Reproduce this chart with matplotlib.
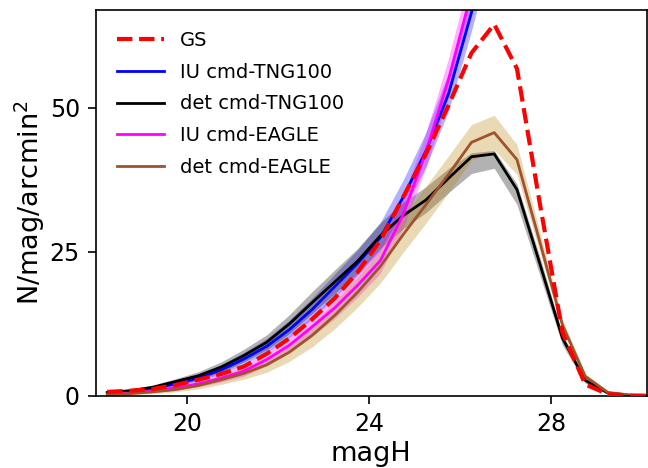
import numpy as np
import matplotlib
matplotlib.use("Agg")
import matplotlib.pyplot as plt

plt.rcParams['axes.linewidth'] = 1.2
plt.rcParams['xtick.major.size'] = 5.5
plt.rcParams['ytick.major.size'] = 5.5
plt.rcParams['xtick.major.width'] = 1.2
plt.rcParams['ytick.major.width'] = 1.2

# bin centres in magH
mag = [18.25, 18.75, 19.25, 19.75, 20.25, 20.75, 21.25, 21.75, 22.25, 22.75,
       23.25, 23.75, 24.25, 24.75, 25.25, 25.75, 26.25, 26.75, 27.25, 27.75,
       28.25, 28.75, 29.25, 29.75, 30.25]

gs = [0.7, 0.9, 1.2, 1.9, 2.8, 3.8, 5.1, 7.3, 10.0, 13.3,
      17.0, 21.5, 27.0, 34.5, 42.0, 50.5, 59.5, 64.5, 56.8, 33.5,
      11.0, 2.0, 0.3, 0.05, 0.02]

# IU curves run off the top of the plot
iu_tng = [0.5, 0.8, 1.3, 2.1, 3.1, 4.5, 6.4, 8.6, 11.5, 15.0,
          19.0, 23.0, 27.5, 34.5, 42.5, 52.5, 66.5, 82.0, 95.0]
iu_tng_err = [0.3, 0.3, 0.4, 0.5, 0.6, 0.8, 1.0, 1.2, 1.5, 1.8,
              2.0, 2.2, 2.4, 2.7, 3.0, 3.3, 3.6, 4.0, 4.4]

iu_eagle = [0.3, 0.5, 0.9, 1.4, 2.1, 3.1, 4.3, 6.3, 8.8, 12.0,
            15.3, 19.2, 23.5, 31.5, 42.3, 55.0, 70.0, 85.0, 98.0]
iu_eagle_err = [0.3, 0.3, 0.4, 0.5, 0.6, 0.8, 1.0, 1.2, 1.5, 1.8,
                2.0, 2.2, 2.4, 2.7, 3.0, 3.3, 3.6, 4.0, 4.4]

det_tng = [0.6, 0.9, 1.5, 2.5, 3.5, 5.0, 7.0, 9.3, 12.5, 16.2,
           19.8, 23.4, 27.8, 31.3, 34.0, 37.8, 41.5, 42.0, 35.8, 23.0,
           10.0, 2.7, 0.5, 0.1, 0.05]
det_tng_lo = [0.3, 0.6, 1.1, 1.9, 2.8, 4.1, 5.9, 8.0, 10.8, 14.3,
              17.8, 21.3, 25.6, 29.0, 31.8, 35.3, 38.6, 39.5, 33.2, 21.0,
              8.8, 2.2, 0.3, 0.05, 0.02]
det_tng_hi = [0.9, 1.2, 1.9, 3.0, 4.2, 5.9, 8.1, 10.6, 14.1, 18.1,
              21.9, 25.6, 30.1, 33.6, 36.3, 39.5, 42.2, 42.6, 36.8, 24.2,
              10.8, 3.1, 0.7, 0.15, 0.08]

det_eagle = [0.2, 0.4, 0.7, 1.1, 1.8, 2.8, 3.9, 5.4, 7.6, 10.5,
             14.0, 18.0, 22.5, 28.0, 33.2, 38.5, 44.0, 45.7, 41.0, 26.8,
             12.3, 3.4, 0.6, 0.15, 0.1]
det_eagle_err = [0.1, 0.2, 0.3, 0.4, 0.6, 0.8, 1.0, 1.3, 1.6, 2.0,
                 2.3, 2.6, 2.9, 3.1, 3.2, 3.2, 3.1, 3.0, 2.6, 1.8,
                 1.0, 0.5, 0.2, 0.1, 0.05]

mag = np.array(mag)
n_iu = len(iu_tng)
iu_tng = np.array(iu_tng); iu_tng_err = np.array(iu_tng_err)
iu_eagle = np.array(iu_eagle); iu_eagle_err = np.array(iu_eagle_err)
det_eagle = np.array(det_eagle); det_eagle_err = np.array(det_eagle_err)

fig = plt.figure(figsize=(6.48, 4.68), dpi=100)
ax = fig.add_axes([0.148, 0.154, 0.85, 0.825])

ax.fill_between(mag[:n_iu], iu_tng - iu_tng_err, iu_tng + iu_tng_err,
                color='blue', alpha=0.3, lw=0)
ax.fill_between(mag, det_tng_lo, det_tng_hi, color='k', alpha=0.3, lw=0)
ax.fill_between(mag[:n_iu], iu_eagle - iu_eagle_err, iu_eagle + iu_eagle_err,
                color='magenta', alpha=0.3, lw=0)
ax.fill_between(mag, det_eagle - det_eagle_err, det_eagle + det_eagle_err,
                color='darkgoldenrod', alpha=0.3, lw=0)

ax.plot(mag, gs, color='red', ls='--', lw=3, label='GS', zorder=5)
ax.plot(mag[:n_iu], iu_tng, color='blue', lw=2, label='IU cmd-TNG100')
ax.plot(mag, det_tng, color='k', lw=2, label='det cmd-TNG100')
ax.plot(mag[:n_iu], iu_eagle, color='magenta', lw=2, label='IU cmd-EAGLE')
ax.plot(mag, det_eagle, color='sienna', lw=2, label='det cmd-EAGLE')

ax.set_xlim(18, 30.1)
ax.set_ylim(0, 67)
ax.set_xticks([20, 24, 28])
ax.set_yticks([0, 25, 50])
ax.tick_params(labelsize=17, pad=6)
ax.set_xlabel('magH', fontsize=19.5, labelpad=4)
ax.set_ylabel('N/mag/arcmin$^2$', fontsize=19.5, labelpad=2)
ax.legend(loc='upper left', frameon=False, fontsize=14, handlelength=2.4,
          labelspacing=0.65, borderaxespad=0.7)

fig.savefig('out.png', dpi=100)
